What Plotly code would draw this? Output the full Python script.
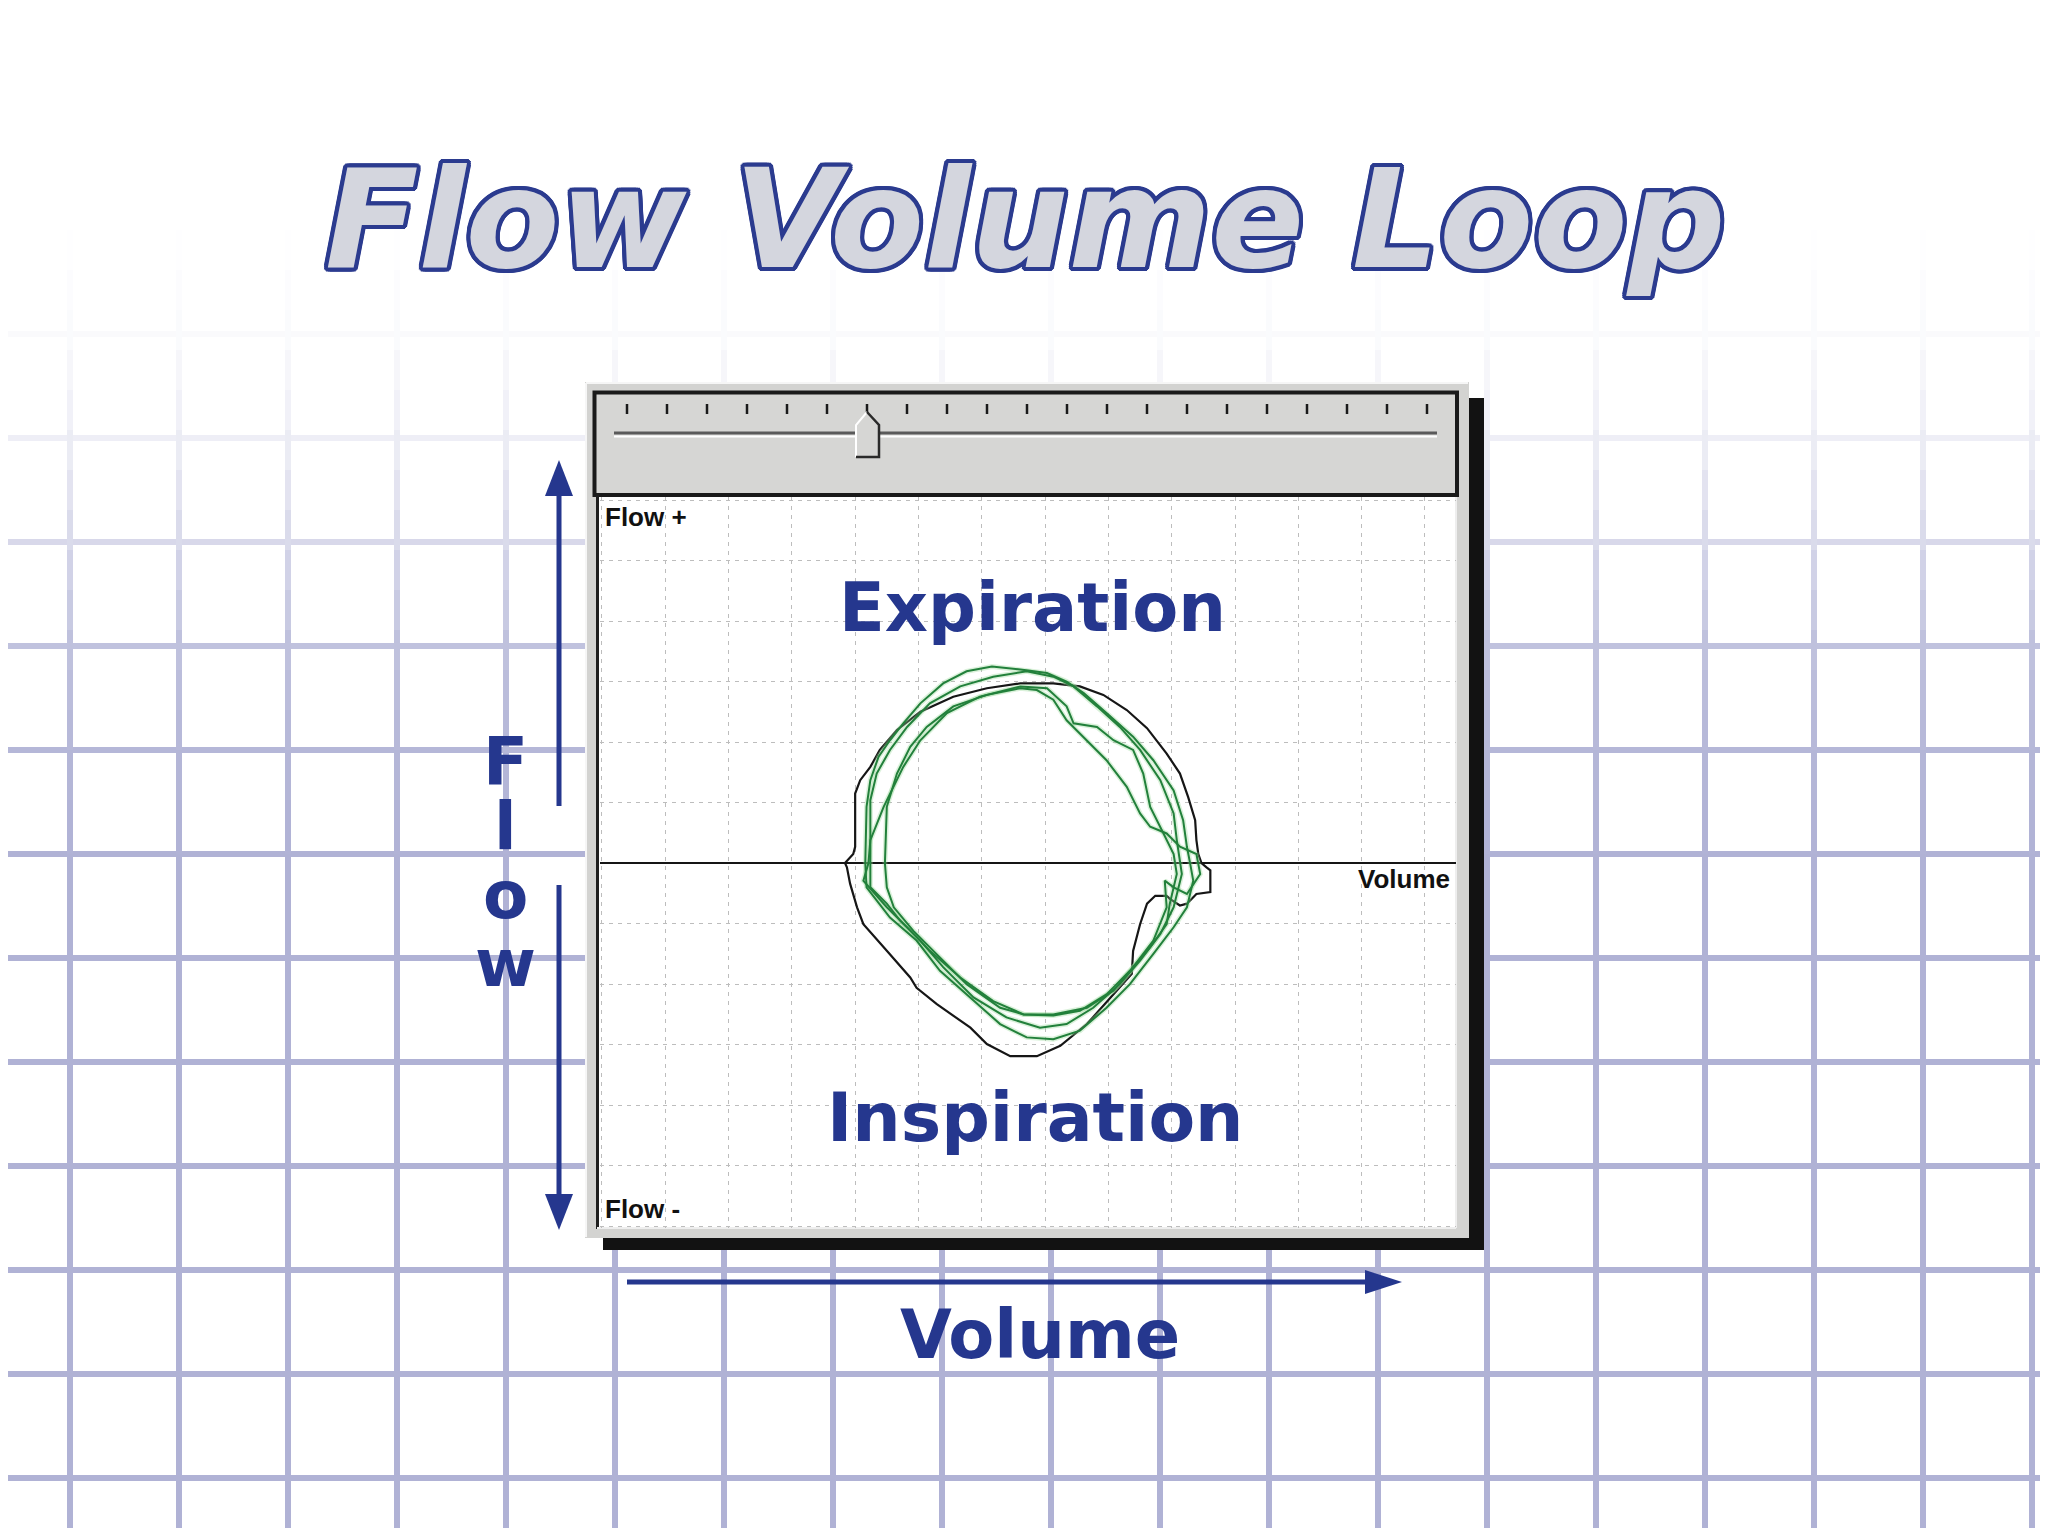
import plotly.graph_objects as go

# ---------------- data (volume / flow in grid units of the monitor) ----------------
black_loop = [(3.84, 0.00), (3.97, 0.15), (4.00, 0.27), (4.00, 1.15), (4.08, 1.37), (4.24, 1.59),
              (4.39, 1.87), (4.66, 2.20), (5.03, 2.50), (5.55, 2.75), (6.08, 2.89), (6.61, 2.97),
              (7.13, 2.97), (7.55, 2.92), (7.92, 2.78), (8.29, 2.53), (8.61, 2.23), (8.92, 1.81),
              (9.13, 1.48), (9.26, 1.09), (9.37, 0.71), (9.39, 0.38), (9.42, 0.15), (9.47, 0.00),
              (9.55, -0.07), (9.61, -0.12), (9.61, -0.48), (9.39, -0.51), (9.24, -0.67), (9.13, -0.70),
              (8.97, -0.59), (8.92, -0.54), (8.74, -0.54), (8.61, -0.67), (8.50, -1.01), (8.39, -1.45),
              (8.37, -1.83), (8.08, -2.17), (7.66, -2.66), (7.24, -3.02), (6.87, -3.19), (6.45, -3.19),
              (6.08, -2.99), (5.82, -2.72), (5.29, -2.33), (4.97, -2.06), (4.87, -1.89), (4.50, -1.45),
              (4.13, -1.01), (4.03, -0.73), (3.92, -0.34), (3.87, -0.07), (3.84, 0.00)]

green_loop_1 = [(4.16, 0.00), (4.18, 0.93), (4.24, 1.37), (4.37, 1.76), (4.55, 2.03), (4.76, 2.31),
                (5.03, 2.64), (5.39, 2.97), (5.76, 3.17), (6.16, 3.25), (6.61, 3.20), (7.03, 3.14),
                (7.34, 3.00), (7.61, 2.81), (7.97, 2.48), (8.39, 2.09), (8.71, 1.70), (9.03, 1.20),
                (9.18, 0.71), (9.24, 0.27), (9.29, 0.00), (9.34, -0.29), (9.24, -0.73), (9.03, -1.06),
                (8.71, -1.50), (8.34, -2.00), (7.97, -2.39), (7.55, -2.77), (7.13, -2.91), (6.71, -2.88),
                (6.29, -2.66), (5.82, -2.22), (5.34, -1.78), (4.97, -1.28), (4.55, -0.90), (4.18, -0.40),
                (4.16, 0.00)]

green_loop_2 = [(4.24, 0.00), (4.24, 1.04), (4.34, 1.48), (4.55, 1.87), (4.82, 2.25), (5.18, 2.64),
                (5.66, 2.92), (6.18, 3.08), (6.71, 3.17), (7.13, 3.08), (7.45, 2.92), (7.82, 2.59),
                (8.18, 2.25), (8.50, 1.87), (8.82, 1.37), (9.03, 0.82), (9.08, 0.38), (9.13, 0.00),
                (9.16, -0.18), (9.03, -0.73), (8.82, -1.17), (8.50, -1.61), (8.18, -2.00), (7.76, -2.39),
                (7.34, -2.66), (6.92, -2.72), (6.39, -2.55), (5.87, -2.22), (5.39, -1.72), (5.03, -1.28),
                (4.71, -0.95), (4.50, -0.67), (4.24, -0.40), (4.24, 0.00)]

green_loop_3 = [(4.21, 0.00), (4.24, 0.38), (4.45, 0.93), (4.76, 1.59), (5.03, 2.03), (5.45, 2.48),
                (5.97, 2.75), (6.61, 2.92), (7.03, 2.89), (7.34, 2.59), (7.45, 2.31), (7.82, 2.25),
                (8.08, 2.03), (8.39, 1.87), (8.55, 1.48), (8.66, 0.93), (8.87, 0.49), (9.03, 0.15),
                (9.08, -0.18), (8.97, -0.67), (8.92, -1.01), (8.66, -1.39), (8.34, -1.78), (7.97, -2.17),
                (7.55, -2.44), (7.13, -2.52), (6.66, -2.50), (6.18, -2.28), (5.66, -1.89), (5.18, -1.45),
                (4.82, -1.06), (4.50, -0.73), (4.13, -0.29), (4.21, 0.00)]

green_loop_4 = [(4.47, 0.00), (4.50, 0.93), (4.66, 1.48), (4.87, 1.92), (5.13, 2.25), (5.55, 2.59),
                (6.08, 2.78), (6.61, 2.89), (6.87, 2.86), (7.13, 2.70), (7.34, 2.36), (7.66, 2.03),
                (7.97, 1.70), (8.29, 1.26), (8.50, 0.82), (8.66, 0.60), (8.92, 0.49), (9.13, 0.27),
                (9.39, 0.15), (9.45, -0.18), (9.24, -0.51), (9.03, -0.40), (8.89, -0.29), (8.92, -0.73),
                (8.71, -1.28), (8.39, -1.72), (8.08, -2.11), (7.66, -2.39), (7.13, -2.50), (6.66, -2.50),
                (6.29, -2.39), (5.76, -2.00), (5.29, -1.50), (4.92, -1.12), (4.61, -0.73), (4.50, -0.40),
                (4.47, 0.00)]

green_loops = [green_loop_1, green_loop_2, green_loop_3, green_loop_4]

title_text = "Flow Volume Loop"
upper_label = "Expiration"
lower_label = "Inspiration"
x_label = "Volume"
y_label_letters = ["F", "l", "o", "w"]
flow_plus_label = "Flow +"
flow_minus_label = "Flow -"
volume_axis_label = "Volume"
slider_tick_count = 21
slider_thumb_index = 6

# ---------------- page geometry helpers ----------------
W, H, OFF = 2032, 1520, 8


def fx(X):
    return (X - OFF) / W


def fy(Y):
    return 1 - (Y - OFF) / H


NAVY = "#25378e"
GREEN = "#22803b"
shapes = []


def rect(x0, y0, x1, y1, fill, line_color=None, line_width=0):
    shapes.append(dict(type="rect", xref="paper", yref="paper", layer="below",
                       x0=fx(x0), x1=fx(x1), y0=fy(y1), y1=fy(y0), fillcolor=fill,
                       line=dict(color=line_color or fill, width=line_width)))


def seg(x0, y0, x1, y1, color, width, layer="below"):
    shapes.append(dict(type="line", xref="paper", yref="paper", layer=layer,
                       x0=fx(x0), x1=fx(x1), y0=fy(y0), y1=fy(y1),
                       line=dict(color=color, width=width)))


def poly(points, fill, line_color=None, line_width=0, layer="below", closed=True):
    d = "M " + " L ".join(f"{fx(x):.6f},{fy(y):.6f}" for x, y in points)
    if closed:
        d += " Z"
    shapes.append(dict(type="path", xref="paper", yref="paper", layer=layer, path=d,
                       fillcolor=fill if closed else "rgba(0,0,0,0)",
                       line=dict(color=line_color or "rgba(0,0,0,0)", width=line_width)))


# ---------------- background graph-paper grid (fading toward the top) ----------------
fade_pts = [(230, 0.0), (334, 0.06), (438, 0.22), (542, 0.5), (647, 0.8), (750, 0.94), (854, 1.0)]


def fade(y):
    if y <= fade_pts[0][0]:
        return 0.0
    for (ya, a0), (yb, a1) in zip(fade_pts, fade_pts[1:]):
        if y <= yb:
            return a0 + (a1 - a0) * (y - ya) / (yb - ya)
    return 1.0


def grid_col(a):
    base = (176, 178, 213)
    r, g, b = (round(255 + (c - 255) * a) for c in base)
    return f"rgb({r},{g},{b})"


grid_x = [70 + 109 * k for k in range(19)]
grid_y = [230 + 104 * k for k in range(13)]
for gy in grid_y:
    a = fade(gy)
    if a > 0.01:
        seg(0, gy, 2048, gy, grid_col(a), 6)
breaks = [230, 270, 310, 350, 390, 430, 470, 510, 550, 590, 630, 670, 710, 750, 800, 854, 1540]
for gx in grid_x:
    for ya, yb in zip(breaks, breaks[1:]):
        a = fade((ya + yb) / 2)
        if a > 0.01:
            seg(gx, ya, gx, yb, grid_col(a), 6)

# ---------------- monitor window ----------------
rect(603, 398, 1484, 1250, "#121212")                     # drop shadow
rect(585, 382, 1469, 1238, "#d3d3d1")                     # outer frame
seg(586, 383, 1468, 383, "#f6f6f6", 2)
seg(586, 383, 586, 1237, "#f6f6f6", 2)
rect(594.5, 392.5, 1457, 495, "#d6d6d4", "#1a1a1a", 4)    # slider panel
rect(597, 497, 1455, 1227, "#ffffff")                     # plot area
seg(597.5, 494, 597.5, 1229, "#1e1e1e", 3)                # left inner border
seg(1456, 497, 1456, 1228, "#eeeeee", 2)
seg(597, 1228, 1456, 1228, "#eeeeee", 2)

# slider ticks / track / thumb
for k in range(slider_tick_count):
    tx = 627 + 40 * k
    seg(tx, 404, tx, 414, "#1a1a1a", 2.5)
seg(614, 433, 1437, 433, "#5a5a5a", 3)
seg(614, 436.5, 1437, 436.5, "#ffffff", 2)
thumb_x = 627 + 40 * slider_thumb_index
thumb = [(thumb_x - 11, 425), (thumb_x, 412), (thumb_x + 12, 425), (thumb_x + 12, 457), (thumb_x - 11, 457)]
poly(thumb, "#d6d6d4")
poly([(thumb_x - 11, 457), (thumb_x - 11, 425), (thumb_x, 412)], None, "#ffffff", 2, closed=False)
poly([(thumb_x, 412), (thumb_x + 12, 425), (thumb_x + 12, 457), (thumb_x - 11, 457)], None, "#2a2a2a", 2.5,
     closed=False)

# ---------------- arrows ----------------
AX = 559
seg(AX, 806, AX, 490, NAVY, 5, layer="above")
poly([(AX, 460), (AX - 14, 496), (AX + 14, 496)], NAVY, layer="above")
seg(AX, 885, AX, 1200, NAVY, 5, layer="above")
poly([(AX, 1230), (AX - 14, 1194), (AX + 14, 1194)], NAVY, layer="above")
seg(627, 1282, 1370, 1282, NAVY, 5, layer="above")
poly([(1402, 1282), (1365, 1270), (1365, 1294)], NAVY, layer="above")

# ---------------- traces ----------------
fig = go.Figure()
bv, bf = zip(*black_loop)
fig.add_trace(go.Scatter(x=bv, y=bf, mode="lines", line=dict(color="#161616", width=2.2),
                         hoverinfo="skip", showlegend=False))
for loop in green_loops:
    gv, gf = zip(*loop)
    fig.add_trace(go.Scatter(x=gv, y=gf, mode="lines", line=dict(color="rgba(150,215,150,0.35)", width=5),
                             hoverinfo="skip", showlegend=False))
for loop in green_loops:
    gv, gf = zip(*loop)
    fig.add_trace(go.Scatter(x=gv, y=gf, mode="lines", line=dict(color=GREEN, width=2.0),
                             hoverinfo="skip", showlegend=False))

# ---------------- text ----------------
annotations = []


def ann(text, X, Y, size, color, family="DejaVu Sans", xanchor="center", weight="bold", style="normal",
        shadow="none", height=None):
    a = dict(text=text, x=fx(X), y=fy(Y), xref="paper", yref="paper", showarrow=False,
             xanchor=xanchor, yanchor="middle", borderpad=0,
             font=dict(family=family, size=size, color=color, weight=weight, style=style, shadow=shadow))
    if height is not None:
        a["height"] = height
    annotations.append(a)


o = "#2b3b8f"
outline = ", ".join(f"{dx}px {dy}px 0 {o}" for dx, dy in
                    [(4, 0), (-4, 0), (0, 4), (0, -4), (3, 3), (-3, -3), (3, -3), (-3, 3),
                     (2, 4), (-2, 4), (2, -4), (-2, -4), (4, 2), (-4, 2), (4, -2), (-4, -2)])
ann(title_text, 1025, 220, 137, "#d4d6de", style="italic", shadow=outline)
ann(upper_label, 1032, 608, 67, NAVY)
ann(lower_label, 1035, 1117, 68, NAVY)
ann(x_label, 1040, 1335, 67, NAVY)
for letter, yc in zip(y_label_letters, [761, 826, 895, 963]):
    ann(letter, 505, yc, 66, NAVY, height=60)
ann(flow_plus_label, 604, 517, 26, "#111111", family="Liberation Sans", xanchor="left")
ann(flow_minus_label, 604, 1209, 26, "#111111", family="Liberation Sans", xanchor="left")
ann(volume_axis_label, 1451, 879, 26, "#111111", family="Liberation Sans", xanchor="right")

axis_common = dict(showticklabels=False, ticks="", showline=False, dtick=1, tick0=0,
                   showgrid=True, gridcolor="#bdbdbd", gridwidth=1.3, griddash="4px,5px", fixedrange=True)
fig.update_layout(
    width=W, height=H, autosize=False,
    margin=dict(l=0, r=0, t=0, b=0, pad=0),
    paper_bgcolor="#ffffff", plot_bgcolor="rgba(0,0,0,0)",
    showlegend=False,
    xaxis=dict(domain=[fx(600), fx(1456)], range=[-0.03, 13.49], zeroline=False, **axis_common),
    yaxis=dict(domain=[fy(1228), fy(497)], range=[-6.03, 6.05], zeroline=True,
               zerolinecolor="#151515", zerolinewidth=2, **axis_common),
    shapes=shapes,
    annotations=annotations,
)

fig.write_html("out.html")
